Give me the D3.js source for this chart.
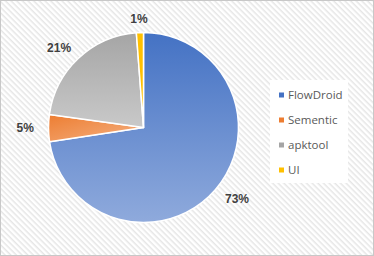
<!DOCTYPE html>
<html><head><meta charset="utf-8">
<script src="https://cdn.jsdelivr.net/npm/d3@7"></script>
<style>html,body{margin:0;padding:0;background:#fff;}svg{display:block;}</style>
</head><body>
<script>
const categories = ["FlowDroid", "Sementic", "apktool", "UI"];
const values = [72.6, 4.6, 21.6, 1.2];
const labels = ["73%", "5%", "21%", "1%"];
const colorsDark = ["#4472C4", "#ED7D31", "#A5A5A5", "#FFC000"];
const colorsLight = ["#8FAADC", "#F4B183", "#C9C9C9", "#FFC000"];

const W = 374, H = 256;
const svg = d3.select("body").append("svg").attr("width", W).attr("height", H);
const defs = svg.append("defs");
const pat = defs.append("pattern").attr("id","stripes").attr("patternUnits","userSpaceOnUse")
  .attr("width",4).attr("height",4).attr("patternTransform","rotate(45)");
pat.append("rect").attr("width",4).attr("height",4).attr("fill","#fff");
pat.append("rect").attr("width",4).attr("height",1.5).attr("fill","#e6e6e6");

svg.append("rect").attr("x",0.5).attr("y",0.5).attr("width",W-1).attr("height",H-1)
  .attr("fill","url(#stripes)").attr("stroke","#c8c8c8");

const cx = 143.5, cy = 127.5, r = 95;
const pie = d3.pie().sort(null).value(d=>d)(values);
const arc = d3.arc().innerRadius(0).outerRadius(r);
const g = svg.append("g").attr("transform",`translate(${cx},${cy})`);

pie.forEach((p,i)=>{
  const lg = defs.append("linearGradient").attr("id","s"+i).attr("gradientUnits","objectBoundingBox")
    .attr("x1",0).attr("y1",0).attr("x2",i===1?1:0).attr("y2",1);
  lg.append("stop").attr("offset","0%").attr("stop-color",colorsDark[i]);
  lg.append("stop").attr("offset","100%").attr("stop-color",colorsLight[i]);
});
g.selectAll("path").data(pie).join("path")
  .attr("d",arc)
  .attr("fill",(d,i)=>"url(#s"+i+")")
  .attr("stroke","#fff").attr("stroke-width",1.5).attr("stroke-linejoin","round");

const off = 10;
g.selectAll("text.lbl").data(pie).join("text").attr("class","lbl")
  .attr("font-family","Liberation Sans, Arial, sans-serif").attr("font-weight","bold")
  .attr("font-size",12).attr("fill","#404040")
  .attr("text-anchor","middle").attr("dy","0.35em")
  .text((d,i)=>labels[i])
  .attr("transform",function(d){
    const a = (d.startAngle+d.endAngle)/2;
    const bb = this.getBBox();
    const s = Math.sin(a), c = Math.cos(a);
    const x = (r+off)*s + s*bb.width*0.75;
    const y = -(r+off)*c - c*bb.height*0.3;
    return `translate(${x},${y})`;
  });

// legend
const lg = svg.append("g");
lg.append("rect").attr("x",270).attr("y",80).attr("width",78).attr("height",103).attr("fill","#fff");
const ly = d3.scalePoint().domain(categories).range([95,170]);
categories.forEach((c,i)=>{
  lg.append("rect").attr("x",279).attr("y",ly(c)-2.5).attr("width",5).attr("height",5).attr("fill",colorsDark[i]);
  lg.append("text").attr("x",288).attr("y",ly(c)).attr("dy","0.35em")
    .attr("font-family","Open Sans, DejaVu Sans, sans-serif").attr("font-size",11.5).attr("fill","#595959").text(c);
});
</script>
</body></html>
